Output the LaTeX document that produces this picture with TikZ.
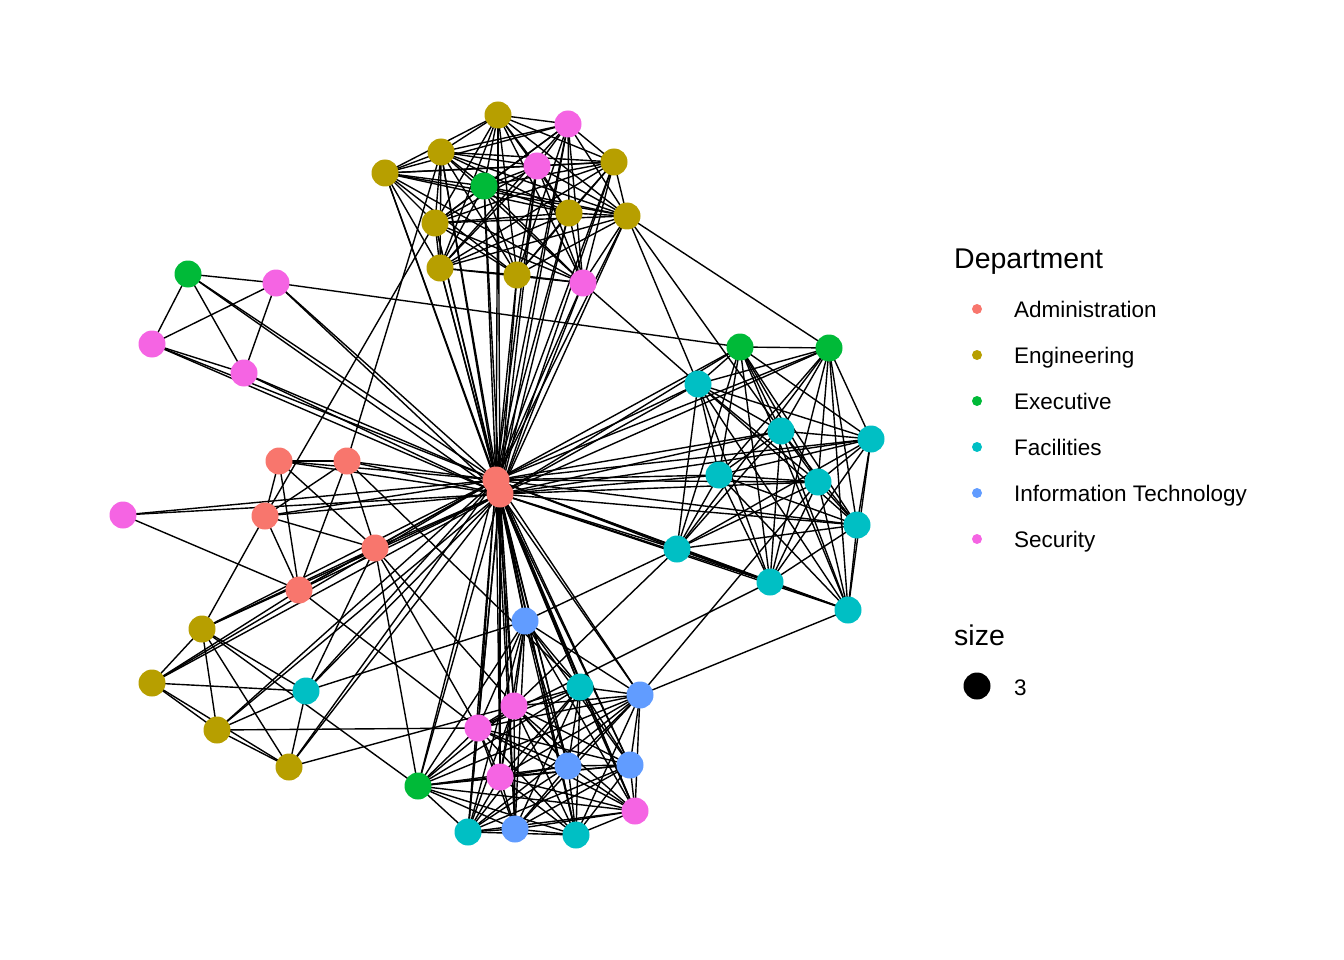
\documentclass[tikz,border=0pt]{standalone}
\usepackage{fontspec}
\setmainfont{Liberation Sans}
\usetikzlibrary{backgrounds}
\definecolor{cAdm}{HTML}{F8766D}
\definecolor{cEng}{HTML}{B79F00}
\definecolor{cExe}{HTML}{00BA38}
\definecolor{cFac}{HTML}{00BFC4}
\definecolor{cIT}{HTML}{619CFF}
\definecolor{cSec}{HTML}{F564E3}
\begin{document}
\begin{tikzpicture}[x=1pt,y=-1pt,
  vtx/.style={circle,inner sep=0pt,minimum size=27pt,draw=none},
  adm/.style={vtx,fill=cAdm}, eng/.style={vtx,fill=cEng}, exe/.style={vtx,fill=cExe},
  fac/.style={vtx,fill=cFac}, itn/.style={vtx,fill=cIT}, sec/.style={vtx,fill=cSec},
  edge/.style={line width=1.4pt,black},
  legtxt/.style={anchor=base west,inner sep=0pt,font=\fontsize{22.5}{27}\selectfont},
  legdot/.style={circle,inner sep=0pt,minimum size=10pt}]
\useasboundingbox (0,0) rectangle (1344,960);
% top cluster
\node[eng] (e1) at (498,115) {};
\node[sec] (s1) at (568,124) {};
\node[eng] (e2) at (441,152) {};
\node[eng] (e3) at (385,173) {};
\node[sec] (s2) at (537,166) {};
\node[eng] (e4) at (614,162) {};
\node[exe] (x1) at (484,186) {};
\node[eng] (e5) at (569,213) {};
\node[eng] (e6) at (627,216) {};
\node[eng] (e7) at (435,223) {};
\node[eng] (e8) at (440,268) {};
\node[eng] (e9) at (517,275) {};
\node[sec] (s3) at (583,283) {};
% left top
\node[exe] (x2) at (188,274) {};
\node[sec] (s4) at (276,283) {};
\node[sec] (s5) at (152,344) {};
\node[sec] (s6) at (244,373) {};
% admin
\node[adm] (a1) at (279,461) {};
\node[adm] (a2) at (347,461) {};
\node[sec] (s7) at (123,515) {};
\node[adm] (a3) at (265,516) {};
\node[adm] (a4) at (375,548) {};
\node[adm] (a5) at (299,590) {};
\node[adm] (h2) at (500,494) {};
\node[adm] (h1) at (496,480) {};
% right cluster
\node[exe] (x3) at (740,347) {};
\node[exe] (x4) at (829,348) {};
\node[fac] (f1) at (698,384) {};
\node[fac] (f2) at (781,431) {};
\node[fac] (f3) at (871,439) {};
\node[fac] (f4) at (719,475) {};
\node[fac] (f5) at (818,482) {};
\node[fac] (f6) at (857,525) {};
\node[fac] (f7) at (677,549) {};
\node[fac] (f8) at (770,582) {};
\node[fac] (f9) at (848,610) {};
% bottom left
\node[eng] (e10) at (202,629) {};
\node[eng] (e11) at (152,683) {};
\node[fac] (f10) at (306,691) {};
\node[eng] (e12) at (217,730) {};
\node[eng] (e13) at (289,767) {};
% bottom cluster
\node[itn] (i1) at (525,621) {};
\node[fac] (f11) at (580,687) {};
\node[itn] (i2) at (640,695) {};
\node[sec] (s8) at (514,706) {};
\node[sec] (s9) at (478,728) {};
\node[exe] (x5) at (418,786) {};
\node[sec] (s10) at (500,777) {};
\node[itn] (i3) at (568,766) {};
\node[itn] (i4) at (630,765) {};
\node[sec] (s11) at (635,811) {};
\node[fac] (f12) at (468,832) {};
\node[itn] (i5) at (515,829) {};
\node[fac] (f13) at (576,835) {};

\begin{scope}[on background layer]
% complete subgraphs
\foreach \grp in {{e1,s1,e2,e3,s2,e4,x1,e5,e6,e7,e8,e9,s3},
                  {x2,s4,s5,s6},
                  {a1,a2,a3,a4,a5},
                  {x3,x4,f1,f2,f3,f4,f5,f6,f7,f8,f9},
                  {e10,e11,e12,e13,f10},
                  {i1,f11,i2,s8,s9,x5,s10,i3,i4,s11,f12,i5,f13}}{
  \foreach \a [count=\i] in \grp {
    \foreach \b [count=\j] in \grp {
      \ifnum\j>\i \draw[edge] (\a.center) -- (\b.center); \fi
    }
  }
}
% hub edges
\foreach \n in {e1,s1,e2,e3,s2,e4,x1,e5,e6,e7,e8,e9,s3,x2,s4,s5,s6,a1,a2,a3,a4,a5,s7,
                x3,x4,f1,f2,f3,f4,f5,f6,f7,f8,f9,e10,e11,e12,e13,f10,
                i1,f11,i2,s8,s9,x5,s10,i3,i4,s11,f12,i5,f13}{
  \draw[edge] (h1.center) -- (\n.center);
  \draw[edge] (h2.center) -- (\n.center);
}
\draw[edge] (h1.center) -- (h2.center);
% other connections
\foreach \a/\b in {s4/x3, e6/x4, e6/f1, e6/f2, s3/f1, e2/a2, e7/a3,
                   s7/a5, a3/e10, e12/s9, e10/x5, f9/i2, f7/i1, f7/s8,
                   f8/s9, i2/f5, e13/s8, f10/i1, x5/a4, a5/s9, a4/s9,
                   a2/f11, a4/i3, e11/a5, e10/a4, f10/a4}{
  \draw[edge] (\a.center) -- (\b.center);
}
\end{scope}

% legend
\node[legtxt,font=\fontsize{28.5}{34}\selectfont] (lt) at (954,268) {Department};
\node[legdot,fill=cAdm] (d1) at (977,309) {};
\node[legdot,fill=cEng] (d2) at (977,355) {};
\node[legdot,fill=cExe] (d3) at (977,401) {};
\node[legdot,fill=cFac] (d4) at (977,447) {};
\node[legdot,fill=cIT]  (d5) at (977,493) {};
\node[legdot,fill=cSec] (d6) at (977,539) {};
\node[legtxt] (l1) at (1014,317) {Administration};
\node[legtxt] (l2) at (1014,363) {Engineering};
\node[legtxt] (l3) at (1014,409) {Executive};
\node[legtxt] (l4) at (1014,455) {Facilities};
\node[legtxt] (l5) at (1014,501) {Information Technology};
\node[legtxt] (l6) at (1014,547) {Security};
\node[legtxt,font=\fontsize{28.5}{34}\selectfont] (ls) at (954,645) {size};
\node[circle,inner sep=0pt,minimum size=27pt,fill=black] (sd) at (977,686) {};
\node[legtxt] (l7) at (1014,695) {3};
\end{tikzpicture}
\end{document}
